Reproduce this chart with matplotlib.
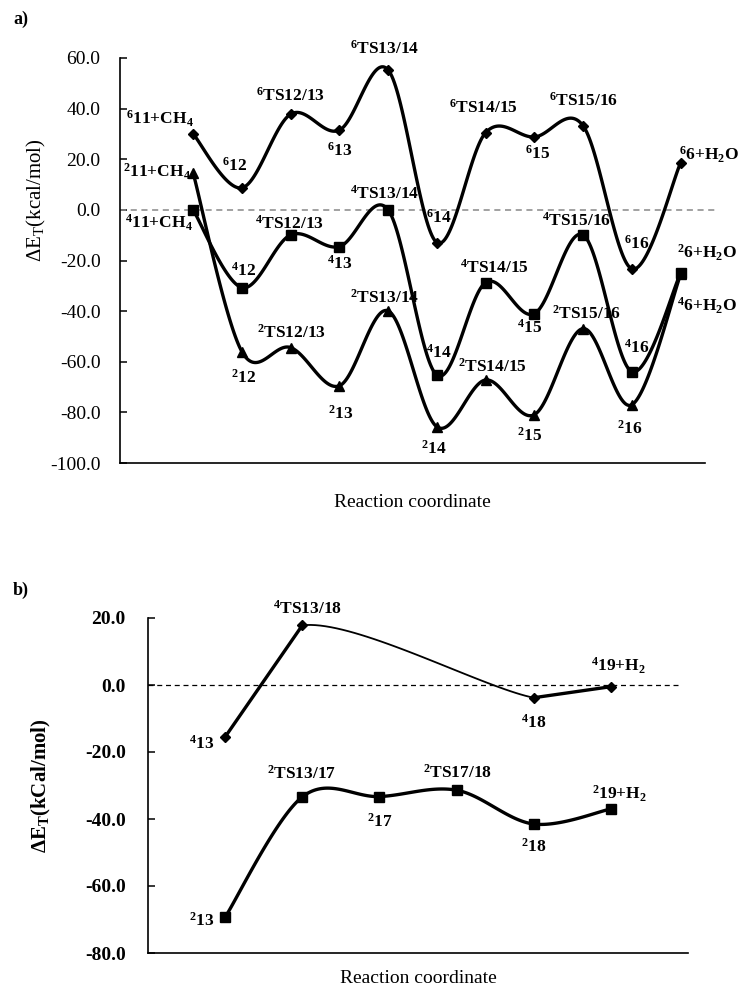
import numpy as np
import matplotlib as mpl
import matplotlib.pyplot as plt

# ---- panel a: energy profiles (kcal/mol) ----
steps_a = np.arange(1, 12)
names_a = ['11+CH$_4$', '12', 'TS12/13', '13', 'TS13/14', '14',
           'TS14/15', '15', 'TS15/16', '16', '6+H$_2$O']
sextet_a = [30.0, 8.7, 37.8, 31.5, 55.3, -12.9, 30.5, 28.8, 33.2, -23.3, 18.6]
quartet_a = [0.0, -30.7, -9.9, -14.5, 0.0, -65.3, -28.7, -41.0, -9.9, -63.9, -25.0]
doublet_a = [14.6, -56.0, -54.4, -69.5, -39.9, -85.7, -67.2, -80.9, -46.9, -77.0, -25.5]

# ---- panel b ----
steps_b = np.arange(1, 7)
names_b = ['13', 'TS13/17', '17', 'TS17/18', '18', '19+H$_2$']
names_b4 = ['13', 'TS13/18', '', '', '18', '19+H$_2$']
quartet_b = [-15.5, 17.8, np.nan, np.nan, -3.8, -0.5]
doublet_b = [-69.3, -33.4, -33.3, -31.4, -41.5, -37.0]

# label offsets (pixels) from each marker
off_a6 = [(-33, 15), (-7, 22), (0, 18), (0, -21), (-4, 21), (2, 25),
          (-2, 25), (3, -17), (0, 25), (5, 25), (28, 8)]
off_a4 = [(-34, -13), (2, 17), (-1, 11), (0, -17), (-4, 16), (2, 22),
          (9, 15), (-5, -14), (-7, 14), (5, 24), (26, -33)]
off_a2 = [(-36, 1), (2, -26), (1, 15), (1, -28), (-4, 13), (-3, -22),
          (7, 13), (-5, -21), (3, 15), (-2, -24), (26, 22)]
off_b4 = [(-23, -7), (5, 17), None, None, (0, -25), (8, 21)]
off_b2 = [(-23, -4), (-1, 23), (0, -25), (1, 17), (0, -23), (9, 15)]

mpl.rc('font', family=['Liberation Serif', 'DejaVu Serif'], size=14)
mpl.rcParams['mathtext.fontset'] = 'custom'
mpl.rcParams['mathtext.rm'] = 'Liberation Serif'
mpl.rcParams['mathtext.bf'] = 'Liberation Serif:bold'
mpl.rcParams['mathtext.it'] = 'Liberation Serif:italic'
mpl.rcParams['mathtext.default'] = 'bf'


def smooth(x, y, n=40):
    # Excel-like smoothed line: Bezier segments with Catmull-Rom tangents
    pts = np.column_stack([x, y]).astype(float)
    segs = []
    t = np.linspace(0, 1, n)[:, None]
    for i in range(len(pts) - 1):
        p0 = pts[max(i - 1, 0)]
        p1 = pts[i]
        p2 = pts[i + 1]
        p3 = pts[min(i + 2, len(pts) - 1)]
        c1 = p1 + (p2 - p0) / 6
        c2 = p2 - (p3 - p1) / 6
        seg = (1 - t)**3 * p1 + 3 * (1 - t)**2 * t * c1 + 3 * (1 - t) * t**2 * c2 + t**3 * p2
        segs.append(seg)
    return segs


def draw_series(ax, x, y, marker, ms):
    x = np.asarray(x)
    y = np.asarray(y, dtype=float)
    for s in smooth(x, y):
        ax.plot(s[:, 0], s[:, 1], '-', color='black', lw=2.4, solid_capstyle='round')
    ax.plot(x, y, marker, color='black', ms=ms, zorder=5)


def label(ax, x, y, text, off):
    ax.annotate(text, (x, y), xytext=off, textcoords='offset pixels',
                ha='center', va='center', fontsize=12.5, fontweight='bold')


def style_axes(ax, bold=False):
    for side in ['top', 'right']:
        ax.spines[side].set_visible(False)
    for side in ['left', 'bottom']:
        ax.spines[side].set_linewidth(1.2)
    ax.set_xticks([])
    ax.tick_params(axis='y', direction='in', length=5, width=1.1)
    ax.yaxis.set_major_formatter(mpl.ticker.FormatStrFormatter('%.1f'))
    if bold:
        for t in ax.get_yticklabels():
            t.set_fontweight('bold')


fig = plt.figure(figsize=(7.4, 9.9), dpi=100)

# ---------------- a) ----------------
ax = fig.add_axes([120 / 740, 1 - 463 / 990, 585 / 740, 405 / 990])
ax.plot([-0.5, 11.73], [0, 0], '--', color='#888888', lw=1.1, dashes=(4, 3), clip_on=False)
draw_series(ax, steps_a, doublet_a, '^', 7)
draw_series(ax, steps_a, sextet_a, 'D', 5.5)
draw_series(ax, steps_a, quartet_a, 's', 7)
for i, x in enumerate(steps_a):
    label(ax, x, sextet_a[i], '$^{6}$' + names_a[i], off_a6[i])
    label(ax, x, quartet_a[i], '$^{4}$' + names_a[i], off_a4[i])
    label(ax, x, doublet_a[i], '$^{2}$' + names_a[i], off_a2[i])
ax.set_xlim(-0.5, 11.5)
ax.set_ylim(-100, 60)
ax.set_yticks(np.arange(-100, 61, 20))
style_axes(ax)
ax.tick_params(axis='y', pad=14)
ax.set_ylabel(r'ΔE$_{\mathrm{T}}$(kcal/mol)', fontsize=15)
ax.yaxis.set_label_coords(-0.123, 0.65)
ax.set_xlabel('Reaction coordinate', fontsize=14, labelpad=22)
fig.text(13 / 740, 1 - 19 / 990, 'a)', fontsize=13, fontweight='bold', va='center')

# ---------------- b) ----------------
ax = fig.add_axes([148 / 740, 1 - 953 / 990, 540 / 740, 335 / 990])
ax.plot([0, 6.89], [0, 0], '--', color='black', lw=0.9, dashes=(4, 3), clip_on=False)
draw_series(ax, steps_b, doublet_b, 's', 7)
qb = np.array(quartet_b)
ok = ~np.isnan(qb)
qx, qy = steps_b[ok], qb[ok]
mid = smooth(qx, qy)[1]
ax.plot(mid[:, 0], mid[:, 1], '-', color='black', lw=1.3)
ax.plot(qx[:2], qy[:2], '-', color='black', lw=2.4)
ax.plot(qx[2:], qy[2:], '-', color='black', lw=2.4)
ax.plot(qx, qy, 'D', color='black', ms=5.5, zorder=5)
for i, x in enumerate(steps_b):
    if off_b4[i] is not None:
        label(ax, x, quartet_b[i], '$^{4}$' + names_b4[i], off_b4[i])
    label(ax, x, doublet_b[i], '$^{2}$' + names_b[i], off_b2[i])
ax.set_xlim(0, 7)
ax.set_ylim(-80, 20)
ax.set_yticks(np.arange(-80, 21, 20))
style_axes(ax, bold=True)
ax.tick_params(axis='y', pad=16)
ax.set_ylabel(r'ΔE$_{\mathbf{T}}$(kCal/mol)', fontsize=15, fontweight='bold')
ax.yaxis.set_label_coords(-0.176, 0.5)
ax.set_xlabel('Reaction coordinate', fontsize=14, labelpad=12)
fig.text(13 / 740, 1 - 590 / 990, 'b)', fontsize=13, fontweight='bold', va='center')

fig.savefig('out.png', dpi=100)
